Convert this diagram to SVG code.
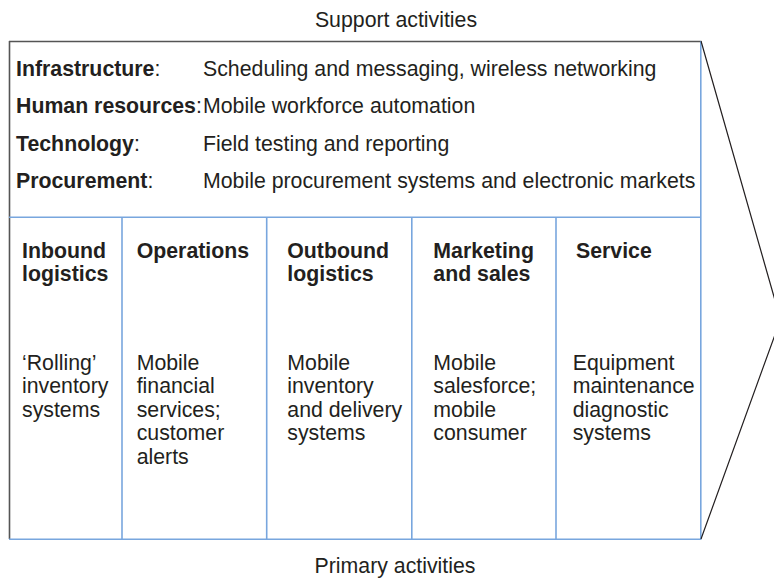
<svg xmlns="http://www.w3.org/2000/svg" width="774" height="578" viewBox="0 0 774 578">
<style>
text{font-family:"Liberation Sans",Arial,sans-serif;font-size:21.3px;fill:#231f20}
.b{font-weight:bold}
.blue{stroke:#78a6de;stroke-width:1.6;fill:none}
.dark{stroke:#555;stroke-width:1.6;fill:none}
.blk{stroke:#231f20;stroke-width:1.2;fill:none}
</style>
<rect width="774" height="578" fill="#fff"/>
<g id="connectors">
<line class="dark" x1="9" y1="41.5" x2="701" y2="41.5"/>
<line class="dark" x1="9.5" y1="41" x2="9.5" y2="539"/>
<line class="blue" x1="700.8" y1="41" x2="700.8" y2="539.5"/>
<line class="blue" x1="9" y1="539.3" x2="701" y2="539.3"/>
<line class="blue" x1="9" y1="217.3" x2="701" y2="217.3"/>
<line class="blue" x1="122" y1="217" x2="122" y2="539"/>
<line class="blue" x1="266.7" y1="217" x2="266.7" y2="539"/>
<line class="blue" x1="411.8" y1="217" x2="411.8" y2="539"/>
<line class="blue" x1="556" y1="217" x2="556" y2="539"/>
<polyline class="blk" points="701,41 780.5,319.5 701,539"/>
</g>
<g id="support-title"><text x="396" y="27" text-anchor="middle">Support activities</text></g>
<g id="primary-title"><text x="395" y="573" text-anchor="middle">Primary activities</text></g>
<g id="infrastructure">
<text x="16" y="75.5"><tspan class="b">Infrastructure</tspan>:</text>
<text x="203" y="75.5">Scheduling and messaging, wireless networking</text>
</g>
<g id="human-resources">
<text x="16" y="113"><tspan class="b">Human resources</tspan>:</text>
<text x="203" y="113">Mobile workforce automation</text>
</g>
<g id="technology">
<text x="16" y="150.5"><tspan class="b">Technology</tspan>:</text>
<text x="203" y="150.5">Field testing and reporting</text>
</g>
<g id="procurement">
<text x="16" y="188"><tspan class="b">Procurement</tspan>:</text>
<text x="203" y="188">Mobile procurement systems and electronic markets</text>
</g>
<g id="inbound-logistics">
<text class="b" x="22" y="257.5">Inbound</text>
<text class="b" x="22" y="281">logistics</text>
<text x="22" y="369.5">‘Rolling’</text>
<text x="22" y="393">inventory</text>
<text x="22" y="416.5">systems</text>
</g>
<g id="operations">
<text class="b" x="136.7" y="257.5">Operations</text>
<text x="136.7" y="369.5">Mobile</text>
<text x="136.7" y="393">financial</text>
<text x="136.7" y="416.5">services;</text>
<text x="136.7" y="440">customer</text>
<text x="136.7" y="463.5">alerts</text>
</g>
<g id="outbound-logistics">
<text class="b" x="287.3" y="257.5">Outbound</text>
<text class="b" x="287.3" y="281">logistics</text>
<text x="287.3" y="369.5">Mobile</text>
<text x="287.3" y="393">inventory</text>
<text x="287.3" y="416.5">and delivery</text>
<text x="287.3" y="440">systems</text>
</g>
<g id="marketing-sales">
<text class="b" x="433.3" y="257.5">Marketing</text>
<text class="b" x="433.3" y="281">and sales</text>
<text x="433.3" y="369.5">Mobile</text>
<text x="433.3" y="393">salesforce;</text>
<text x="433.3" y="416.5">mobile</text>
<text x="433.3" y="440">consumer</text>
</g>
<g id="service">
<text class="b" x="576" y="257.5">Service</text>
<text x="572.7" y="369.5">Equipment</text>
<text x="572.7" y="393">maintenance</text>
<text x="572.7" y="416.5">diagnostic</text>
<text x="572.7" y="440">systems</text>
</g>
</svg>
